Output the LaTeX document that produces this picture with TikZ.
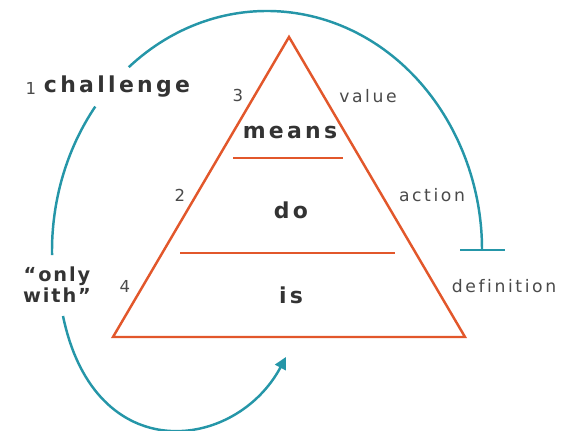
\documentclass[tikz,border=0pt]{standalone}
\usepackage{fontspec}
\setmainfont{DejaVu Sans}
\newfontfamily\spaced[LetterSpace=15, Ligatures=NoCommon]{DejaVu Sans}
\usepackage{tikz}
\usetikzlibrary{arrows.meta,calc,positioning}
\definecolor{pyr}{HTML}{E2572B}
\definecolor{cyc}{HTML}{2596A8}
\definecolor{ink}{HTML}{333333}
\definecolor{soft}{HTML}{4A4A4A}
\tikzset{
  pyrline/.style={draw=pyr, line width=1.4pt},
  cycline/.style={draw=cyc, line width=1.4pt},
  tier/.style={font=\spaced\bfseries\fontsize{12.5}{15}\selectfont, text=ink, inner sep=0pt},
  side/.style={font=\spaced\fontsize{9.8}{12}\selectfont, text=soft, inner sep=0pt},
  num/.style={font=\fontsize{9.4}{11}\selectfont, text=soft, inner sep=0pt}
}

\begin{document}
\begin{tikzpicture}[x=0.02cm,y=0.02cm]
\useasboundingbox (0,0) rectangle (575,431);
% pyramid
\coordinate (top) at (289,394);
\coordinate (bl) at (113,94);
\coordinate (br) at (465,94);
\draw[pyrline, line join=miter] (top) -- (bl) -- (br) -- cycle;
\coordinate (m1) at (233,273);
\coordinate (m2) at (343,273);
\coordinate (d1) at (180,178);
\coordinate (d2) at (395,178);
\draw[pyrline] (m1) -- (m2);
\draw[pyrline] (d1) -- (d2);
% tiers
\node[tier] (means) at (290,298) {means};
\node[tier] (do) at (291,221) {do};
\node[tier] (is) at (291,136) {is};
% side labels
\node[side] (value) at (368,335) {value};
\node[side] (action) at (432,236) {action};
\node[side] (definition) at (504,145) {definition};
\node[num] (n3) at (238,335) {3};
\node[num] (n2) at (180,236) {2};
\node[num] (n4) at (125,145) {4};
% cycle
\node[tier] (chal) at (117,344) {challenge};
\node[num] (n1) at (31,343) {1};
\node[tier, align=center, font=\spaced\bfseries\fontsize{11}{12}\selectfont\addfontfeatures{LetterSpace=10}] (only) at (57,146) {“only\\with”};
\coordinate (ctr) at (267,180);
\draw[cycline, -{Bar[width=0.9cm]}] (ctr) ++(130:215 and 240) arc[start angle=130, end angle=0, x radius=215, y radius=240];
\draw[cycline] (ctr) ++(143:215 and 240) arc[start angle=143, end angle=181, x radius=215, y radius=240];
\coordinate (q1) at (63,115);
\coordinate (q2) at (286,74);
\draw[cycline, -{Triangle[width=0.24cm, length=0.24cm]}] (q1) .. controls (95,-39) and (236,-20) .. (q2);
\end{tikzpicture}
\end{document}
